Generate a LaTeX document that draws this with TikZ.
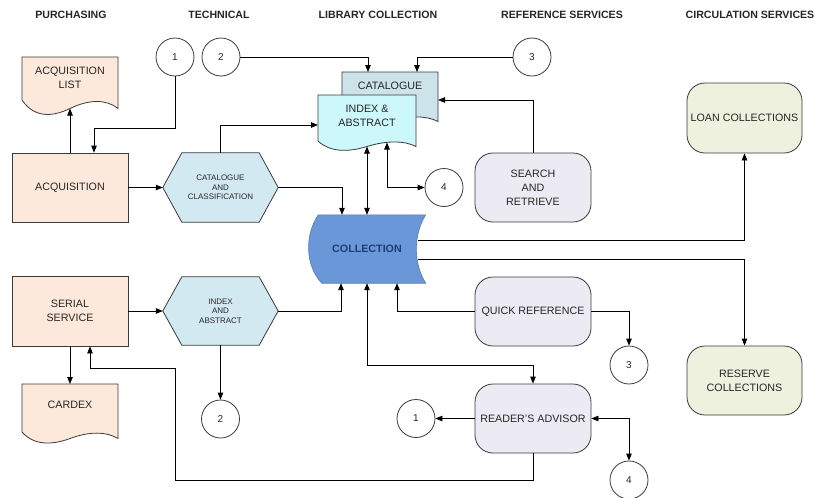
\documentclass[tikz,border=0pt]{standalone}
\usepackage{fontspec}
\setmainfont{Liberation Sans}
\usetikzlibrary{arrows.meta,backgrounds,calc}
\definecolor{peach}{HTML}{FCE9DB}
\definecolor{hexblue}{HTML}{D3E9F1}
\definecolor{catblue}{HTML}{CCE3EA}
\definecolor{idxcyan}{HTML}{CCF7FB}
\definecolor{collblue}{HTML}{6A97D8}
\definecolor{colltext}{HTML}{1E3C78}
\definecolor{lav}{HTML}{ECEBF3}
\definecolor{pale}{HTML}{EFF1DF}
\definecolor{edge}{HTML}{3A3A3A}
\tikzset{
  shapeline/.style={draw=edge, line width=0.8pt},
  txt/.style={font=\fontsize{10.7}{14}\selectfont, text=black!85, align=center},
  small/.style={font=\fontsize{8}{9.7}\selectfont, text=black!85, align=center},
  hdr/.style={font=\fontsize{10.6}{12}\selectfont\bfseries, text=black!85},
  sqbox/.style={shapeline, txt, minimum width=116pt, minimum height=69pt, inner sep=0pt},
  rbox/.style={sqbox, rounded corners=18pt},
  hexnode/.style={small, minimum width=115pt, minimum height=69pt, inner sep=0pt},
  circ/.style={circle, shapeline, fill=white, minimum size=38pt, inner sep=0pt, font=\fontsize{10}{12}\selectfont, text=black!85},
  wire/.style={draw=black, line width=0.8pt},
  arr/.style={wire, -{Triangle[length=7pt,width=5.5pt]}},
  arrb/.style={wire, {Triangle[length=7pt,width=5.5pt]}-{Triangle[length=7pt,width=5.5pt]}},
}
\newcommand\docshape[6]{%
  \filldraw[shapeline, fill=#6] (#1,#2) -- (#3,#2) -- (#3,{#4+0.5*#5})
   .. controls ({#1+0.88*(#3-#1)},{#4-0.05*#5}) and ({#1+0.7*(#3-#1)},{#4-0.05*#5}) .. ({#1+0.5*(#3-#1)},{#4+0.5*#5})
   .. controls ({#1+0.3*(#3-#1)},{#4+1.05*#5}) and ({#1+0.12*(#3-#1)},{#4+#5}) .. (#1,#4) -- cycle;}
\begin{document}
\begin{tikzpicture}[x=1pt,y=-1pt]
\useasboundingbox (0,0) rectangle (815,498);
\begin{pgfonlayer}{background}
  \fill[white] (0,0) rectangle (815,498);
\end{pgfonlayer}
% headers
\node[hdr] (h1) at (71,15) {PURCHASING};
\node[hdr] (h2) at (219,15) {TECHNICAL};
\node[hdr] (h3) at (378,15) {LIBRARY COLLECTION};
\node[hdr] (h4) at (562,15) {REFERENCE SERVICES};
\node[hdr] (h5) at (750,15) {CIRCULATION SERVICES};

% document shapes
\docshape{22}{57}{118}{100}{17}{peach}
\node[txt] (acqlt) at (70,78) {ACQUISITION\\LIST};
\coordinate (acqlb) at (70,108.5);
\docshape{22}{384}{118}{432}{13}{peach}
\node[txt] (cardt) at (70,405) {CARDEX};
\coordinate (cardtop) at (70,384);
\docshape{342}{72}{438}{116}{11}{catblue}
\node[txt] (catt) at (390,86) {CATALOGUE};
\coordinate (cattop1) at (368,72);
\coordinate (cattop2) at (417,72);
\coordinate (catR) at (438,100);
\docshape{318}{95}{416}{141}{11}{idxcyan}
\node[txt] (iadt) at (367,116) {INDEX \&\\ABSTRACT};
\coordinate (iaL) at (318,125);
\coordinate (iadb) at (367,146.5);
\coordinate (iadb2) at (387,142.5);

% boxes
\node[sqbox, fill=peach] (acq) at (70,187.5) {ACQUISITION};
\node[sqbox, fill=peach, minimum height=70pt] (ser) at (70,311) {SERIAL\\SERVICE};
\node[rbox, fill=lav] (sr) at (533,187.5) {SEARCH\\AND\\RETRIEVE};
\node[rbox, fill=lav] (qr) at (533,311.5) {QUICK REFERENCE};
\node[rbox, fill=lav] (ra) at (533,418.5) {READER'S ADVISOR};
\node[rbox, fill=pale, minimum width=115pt, minimum height=70pt] (loan) at (744.5,118) {LOAN COLLECTIONS};
\node[rbox, fill=pale, minimum width=115pt] (res) at (744.5,380.5) {RESERVE\\COLLECTIONS};

% hexagons
\node[hexnode] (cc) at (220.5,187.5) {CATALOGUE\\AND\\CLASSIFICATION};
\node[hexnode, minimum height=68pt] (ia) at (220.5,311) {INDEX\\AND\\ABSTRACT};
% collection
\node[minimum width=117pt, minimum height=68pt, inner sep=0pt, font=\fontsize{10.7}{12}\selectfont\bfseries, text=colltext] (coll) at (367,249) {COLLECTION};
\begin{pgfonlayer}{background}
  \foreach \h in {cc,ia}{
    \filldraw[shapeline, fill=hexblue] ([xshift=19pt]\h.north west) -- ([xshift=-19pt]\h.north east) -- (\h.east)
      -- ([xshift=-19pt]\h.south east) -- ([xshift=19pt]\h.south west) -- (\h.west) -- cycle;
  }
  \filldraw[draw=collblue!80!black, line width=0.6pt, fill=collblue]
    ([xshift=10pt]coll.north west) -- (coll.north east)
    .. controls ([xshift=-12.5pt,yshift=-20pt]coll.north east) and ([xshift=-12.5pt,yshift=20pt]coll.south east) .. (coll.south east)
    -- ([xshift=13.5pt]coll.south west)
    .. controls ([xshift=-3.5pt,yshift=18pt]coll.south west) and ([xshift=-3.5pt,yshift=-20pt]coll.north west) .. cycle;
\end{pgfonlayer}
\coordinate (collR1) at (418,240);
\coordinate (collR2) at (418,259);

% circles
\node[circ] (c1top) at (175,57) {1};
\node[circ] (c2top) at (221,57) {2};
\node[circ] (c3top) at (532,57) {3};
\node[circ] (c4mid) at (444,187.5) {4};
\node[circ] (c3bot) at (629,365) {3};
\node[circ] (c2bot) at (220.5,419) {2};
\node[circ] (c1bot) at (416,418.5) {1};
\node[circ] (c4bot) at (629,480) {4};

% connectors
\draw[arr] (acq.north) -- (acqlb);
\draw[arr] (c1top.south) -- ++(0,52) -| ([xshift=24pt]acq.north);
\draw[arr] (acq) -- (cc);
\draw[arr] (cc.north) |- (iaL);
\draw[arr] (cc.east) -| ([xshift=-25pt]coll.north);
\draw[arrb] (iadb) -- (coll.north);
\draw[arrb] (iadb2) |- (c4mid.west);
\draw[arr] (c2top.east) -| (cattop1);
\draw[arr] (c3top.west) -| (cattop2);
\draw[arr] (sr.north) |- (catR);
\draw[arr] (collR1) -| (loan.south);
\draw[arr] (collR2) -| (res.north);
\draw[arr] (ser) -- (ia);
\draw[arr] (ia.east) -| ([xshift=-26pt]coll.south);
\draw[arr] (ia.south) -- (c2bot.north);
\draw[arr] (ser.south) -- (cardtop);
\coordinate (loopA) at (175,480);
\coordinate (loopB) at (175,368);
\draw[arr] (ra.south) |- (loopA) -- (loopB) -| ([xshift=20pt]ser.south);
\draw[arr] (qr.west) -| ([xshift=30pt]coll.south);
\draw[arr] (qr.east) -| (c3bot.north);
\draw[arrb] (coll.south) -- ++(0,82) -| (ra.north);
\draw[arr] (ra.west) -- (c1bot.east);
\draw[arrb] (ra.east) -| (c4bot.north);
\end{tikzpicture}
\end{document}
